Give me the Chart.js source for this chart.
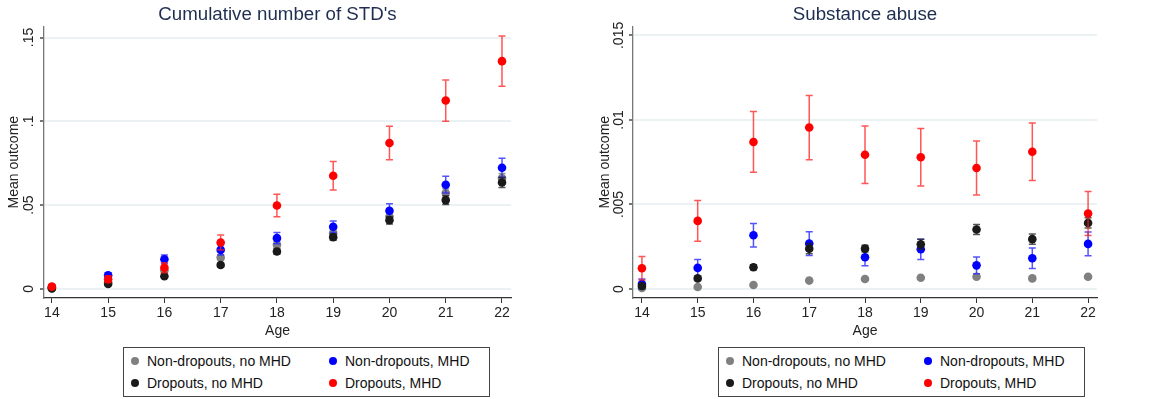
<!DOCTYPE html>
<html>
<head>
<meta charset="utf-8">
<script src="https://cdn.jsdelivr.net/npm/chart.js@4.4.1/dist/chart.umd.min.js"></script>
<style>
  body { margin: 0; background: #fff; font-family: "Liberation Sans", Arial, sans-serif; }
  #wrap { position: relative; width: 1165px; height: 399px; background: #fff; }
  canvas { position: absolute; top: 0; }
  .legend {
    position: absolute; top: 347px; height: 46px;
    border: 1px solid #444; padding: 2px 0 0 7px; box-sizing: content-box;
    display: grid; grid-template-columns: 198px auto; grid-auto-rows: 22px;
    font-size: 14px; color: #111; width: 358px;
  }
  .legend span { display: flex; align-items: center; white-space: nowrap; }
  .legend i { display: inline-block; width: 8px; height: 8px; border-radius: 50%; margin-right: 8px; }
</style>
</head>
<body>
<div id="wrap">
  <canvas id="stdChart" width="580" height="345" style="left:0"></canvas>
  <canvas id="subChart" width="585" height="345" style="left:580px"></canvas>
  <div class="legend" id="stdLegend" style="left:123px"></div>
  <div class="legend" id="subLegend" style="left:718px"></div>
</div>
<script>
const ages = [14, 15, 16, 17, 18, 19, 20, 21, 22];
const groupNames = ['Non-dropouts, no MHD', 'Non-dropouts, MHD', 'Dropouts, no MHD', 'Dropouts, MHD'];

// Cumulative number of STD's
const stdNonDropNoMhd = [0.0005, 0.004, 0.011, 0.0187, 0.0263, 0.0333, 0.0432, 0.0572, 0.0661];
const stdNonDropMhd   = [0.001, 0.0082, 0.0177, 0.0233, 0.0303, 0.0371, 0.0466, 0.0622, 0.0723];
const stdDropNoMhd    = [0.0003, 0.003, 0.0076, 0.0143, 0.0223, 0.0309, 0.041, 0.053, 0.0635];
const stdDropMhd      = [0.0014, 0.0058, 0.0127, 0.0277, 0.0498, 0.0675, 0.0871, 0.1124, 0.1359];
const stdErrNonDropNoMhd = [0.0003, 0.0008, 0.0012, 0.0015, 0.0018, 0.002, 0.0022, 0.0025, 0.0028];
const stdErrNonDropMhd   = [0.0008, 0.0015, 0.0025, 0.003, 0.0033, 0.0034, 0.0042, 0.005, 0.0057];
const stdErrDropNoMhd    = [0.0003, 0.0007, 0.001, 0.0013, 0.0016, 0.0018, 0.0022, 0.0026, 0.003];
const stdErrDropMhd      = [0.001, 0.002, 0.003, 0.0045, 0.0067, 0.0085, 0.01, 0.0123, 0.015];
const stdTicks = [0, 0.05, 0.1, 0.15];
const stdTickLabels = ['0', '.05', '.1', '.15'];

// Substance abuse
const subNonDropNoMhd = [0.00006, 0.00012, 0.00024, 0.0005, 0.00059, 0.00067, 0.00073, 0.00063, 0.00073];
const subNonDropMhd   = [0.0003, 0.00125, 0.00318, 0.00269, 0.00188, 0.00235, 0.0014, 0.00182, 0.00267];
const subDropNoMhd    = [0.00018, 0.00063, 0.00129, 0.00239, 0.00239, 0.00265, 0.00352, 0.00295, 0.00391];
const subDropMhd      = [0.00123, 0.00403, 0.0087, 0.00955, 0.00794, 0.00779, 0.00716, 0.00812, 0.00447];
const subErrNonDropNoMhd = [0.00004, 0.00004, 0.00004, 0.00004, 0.00004, 0.00004, 0.00004, 0.00004, 0.00004];
const subErrNonDropMhd   = [0.0003, 0.0005, 0.0007, 0.0007, 0.0005, 0.0006, 0.0005, 0.0006, 0.0007];
const subErrDropNoMhd    = [0.0001, 0.0001, 0.00015, 0.0003, 0.0002, 0.0003, 0.0003, 0.0003, 0.0003];
const subErrDropMhd      = [0.0007, 0.0012, 0.0018, 0.0019, 0.0017, 0.0017, 0.0016, 0.0017, 0.0013];
const subTicks = [0, 0.005, 0.01, 0.015];
const subTickLabels = ['0', '.005', '.01', '.015'];

const colors = ['#808080', '#0000ff', '#1a1a1a', '#ff0000'];
const errColors = ['rgba(128,128,128,0.8)', 'rgba(40,40,255,0.8)', 'rgba(30,30,30,0.75)', 'rgba(255,30,30,0.75)'];
const drawOrder = [3, 2, 1, 0]; // red on top
const FONT = '"Liberation Sans", Arial, sans-serif';

const errorBars = {
    id: 'errorBars',
    beforeDatasetDraw(chart, args) {
        const ds = chart.data.datasets[args.index];
        const xs = chart.scales.x, ys = chart.scales.y;
        const ctx = chart.ctx;
        ctx.save();
        ctx.strokeStyle = ds.errColor;
        ctx.lineWidth = 1.5;
        ds.data.forEach((p, i) => {
            const px = xs.getPixelForValue(p.x);
            const lo = ys.getPixelForValue(p.y - ds.err[i]);
            const hi = ys.getPixelForValue(p.y + ds.err[i]);
            ctx.beginPath();
            ctx.moveTo(px, lo); ctx.lineTo(px, hi);
            ctx.moveTo(px - 3.5, lo); ctx.lineTo(px + 3.5, lo);
            ctx.moveTo(px - 3.5, hi); ctx.lineTo(px + 3.5, hi);
            ctx.stroke();
        });
        ctx.restore();
    }
};

// Stata style vertical y tick labels
const rotatedYTicks = {
    id: 'rotatedYTicks',
    afterDraw(chart, args, opts) {
        const s = chart.scales.y, ctx = chart.ctx;
        ctx.save();
        ctx.fillStyle = '#222';
        ctx.font = '14px ' + FONT;
        ctx.textAlign = 'center';
        ctx.textBaseline = 'middle';
        for (const t of s.ticks) {
            ctx.save();
            ctx.translate(opts.x, s.getPixelForValue(t.value));
            ctx.rotate(-Math.PI / 2);
            ctx.fillText(t.label, 0, 0);
            ctx.restore();
        }
        ctx.restore();
    }
};

function buildChart(id, title, series, errs, yTicks, yLabels, cfg) {
    const datasets = series.map((vals, k) => ({
        label: groupNames[k],
        data: ages.map((a, i) => ({ x: a, y: vals[i] })),
        err: errs[k],
        errColor: errColors[k],
        backgroundColor: colors[k],
        borderWidth: 0,
        pointRadius: 4.3,
        order: drawOrder[k]
    }));

    new Chart(document.getElementById(id), {
        type: 'scatter',
        data: { datasets },
        plugins: [errorBars, rotatedYTicks],
        options: {
            responsive: false,
            animation: false,
            devicePixelRatio: 1,
            layout: { padding: { right: cfg.padRight } },
            plugins: {
                legend: { display: false },
                tooltip: { enabled: false },
                title: {
                    display: true, text: title, color: '#1e2d50', fullSize: false,
                    font: { family: FONT, size: 18.7, weight: 'normal' },
                    padding: { top: 4, bottom: 0 }
                },
                rotatedYTicks: { x: cfg.tickX }
            },
            scales: {
                x: {
                    type: 'linear', min: cfg.xMin, max: 22.16,
                    afterBuildTicks: s => { s.ticks = ages.map(v => ({ value: v })); },
                    afterFit: s => { s.height = 47; },
                    grid: { drawOnChartArea: false, tickColor: '#333', tickLength: 5 },
                    border: { color: '#333', width: 1.3 },
                    ticks: { color: '#222', padding: 2, font: { family: FONT, size: 14 } },
                    title: {
                        display: true, text: 'Age', color: '#222',
                        font: { family: FONT, size: 14 }, padding: { top: 0, bottom: 5 }
                    }
                },
                y: {
                    type: 'linear', min: cfg.yMin, max: cfg.yMax,
                    afterBuildTicks: s => { s.ticks = yTicks.map(v => ({ value: v })); },
                    afterFit: s => { s.width = cfg.yWidth; },
                    grid: { color: '#eaf2f3', lineWidth: 2, tickColor: '#777', tickLength: 4 },
                    border: { color: '#777', width: 1.3 },
                    ticks: { display: false, callback: (v, i) => yLabels[i] },
                    title: {
                        display: true, text: 'Mean outcome', color: '#222',
                        font: { family: FONT, size: 14 }, padding: { top: cfg.titlePad, bottom: 0 }
                    }
                }
            }
        }
    });
}

function buildLegend(id) {
    const el = document.getElementById(id);
    for (const k of [0, 1, 2, 3]) {
        const item = document.createElement('span');
        item.innerHTML = `<i style="background:${colors[k]}"></i>${groupNames[k]}`;
        el.appendChild(item);
    }
}

buildChart('stdChart', "Cumulative number of STD's",
    [stdNonDropNoMhd, stdNonDropMhd, stdDropNoMhd, stdDropMhd],
    [stdErrNonDropNoMhd, stdErrNonDropMhd, stdErrDropNoMhd, stdErrDropMhd],
    stdTicks, stdTickLabels,
    { padRight: 69, yWidth: 44, tickX: 29, titlePad: 6, xMin: 13.86, yMin: -0.0054, yMax: 0.1566 });

buildChart('subChart', 'Substance abuse',
    [subNonDropNoMhd, subNonDropMhd, subDropNoMhd, subDropMhd],
    [subErrNonDropNoMhd, subErrNonDropMhd, subErrDropNoMhd, subErrDropMhd],
    subTicks, subTickLabels,
    { padRight: 68, yWidth: 53, tickX: 39, titlePad: 17, xMin: 13.84, yMin: -0.00053, yMax: 0.01553 });

buildLegend('stdLegend');
buildLegend('subLegend');
</script>
</body>
</html>
